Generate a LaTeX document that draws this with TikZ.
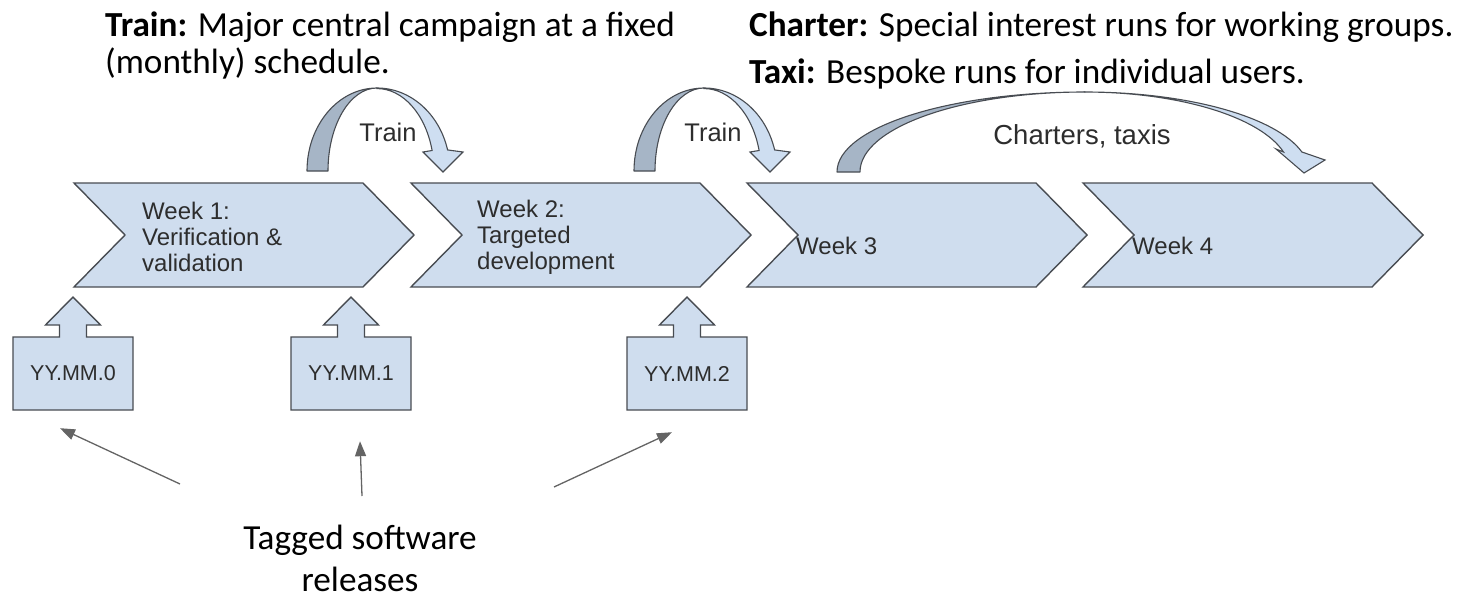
\documentclass[tikz,border=0pt]{standalone}
\usepackage{fontspec}
\setmainfont{Carlito}
\newfontfamily\arialf{Liberation Sans}
\usetikzlibrary{arrows.meta,calc}
\definecolor{chevfill}{RGB}{207,221,238}
\definecolor{chevdraw}{RGB}{72,76,82}
\definecolor{arcdark}{RGB}{166,181,198}
\definecolor{arclight}{RGB}{206,222,241}
\definecolor{pointercol}{RGB}{100,100,100}
\definecolor{labelcol}{RGB}{45,45,45}
\begin{document}
\begin{tikzpicture}[x=1pt,y=-1pt,
  chev/.style={fill=chevfill,draw=chevdraw,line width=1.4pt,line join=miter},
  darkband/.style={fill=arcdark,draw=chevdraw,line width=1.1pt,line join=round},
  lightband/.style={fill=arclight,draw=chevdraw,line width=1.1pt,line join=miter},
  toptext/.style={inner sep=0pt,text=black,font=\fontsize{35.2}{40}\selectfont},
  weektext/.style={inner sep=0pt,text=labelcol,align=left,font=\arialf\fontsize{24}{26}\selectfont},
  arclabel/.style={inner sep=0pt,text=labelcol,font=\arialf\fontsize{25.5}{28}\selectfont},
  reltext/.style={inner sep=0pt,text=labelcol,minimum width=120pt,minimum height=73pt,font=\arialf\fontsize{21.5}{24}\selectfont},
  pointer/.style={draw=pointercol,line width=1.3pt,-{Triangle[length=15pt,width=11pt]}}]
\path[use as bounding box] (0,0) rectangle (1463,602);

% top texts
\node[toptext,anchor=base west] (trainA) at (105,37) {\textbf{Train:} Major central campaign at a fixed};
\node[toptext,anchor=base west] (trainB) at (105,74) {(monthly) schedule.};
\node[toptext,anchor=base west] (charter) at (749,37) {\textbf{Charter:} Special interest runs for working groups.};
\node[toptext,anchor=base west] (taxi) at (749,83) {\textbf{Taxi:} Bespoke runs for individual users.};

% chevrons
\draw[chev,shift={(74,0)}] (0,183) -- ++(289,0) -- ++(51,52) -- ++(-51,52) -- ++(-289,0) -- ++(51,-52) -- cycle;
\draw[chev,shift={(411,0)}] (0,183) -- ++(289,0) -- ++(51,52) -- ++(-51,52) -- ++(-289,0) -- ++(51,-52) -- cycle;
\draw[chev,shift={(747,0)}] (0,183) -- ++(289,0) -- ++(51,52) -- ++(-51,52) -- ++(-289,0) -- ++(51,-52) -- cycle;
\draw[chev,shift={(1083,0)}] (0,183) -- ++(289,0) -- ++(51,52) -- ++(-51,52) -- ++(-289,0) -- ++(51,-52) -- cycle;

\node[weektext,anchor=west] (w1) at (142,237) {Week 1:\\Verification \&\\validation};
\node[weektext,anchor=west] (w2) at (477,237) {Week 2:\\Targeted\\development};
\node[weektext,anchor=west] (w3) at (796,246) {Week 3};
\node[weektext,anchor=west] (w4) at (1132,246) {Week 4};

% train arrows
\foreach \s in {0,327}{
\begin{scope}[shift={(\s,0)}]
\draw[darkband] (307,171) arc[start angle=180,end angle=270,x radius=70,y radius=83]
  arc[start angle=270,end angle=180,x radius=49,y radius=83] -- cycle;
\draw[lightband] (377,88) arc[start angle=270,end angle=345.3,x radius=73,y radius=83]
  -- (463,152) -- (443,172) -- (423,152) -- (432.1,150.5)
  arc[start angle=345.3,end angle=270,x radius=57,y radius=83] -- cycle;
\end{scope}}
\node[arclabel] (trainlab1) at (388,132) {Train};
\node[arclabel] (trainlab2) at (713,132) {Train};

% charters arrow
\draw[darkband] (837,172) arc[start angle=180,end angle=270,x radius=248,y radius=80]
  arc[start angle=270,end angle=180,x radius=225,y radius=80] -- cycle;
\draw[lightband] (1085,92) arc[start angle=270,end angle=345.5,x radius=224,y radius=80]
  -- (1325,160) -- (1304,173) -- (1276,149) -- (1283.5,152)
  arc[start angle=345.5,end angle=270,x radius=205,y radius=80] -- cycle;
\node[arclabel,font=\arialf\fontsize{27.5}{30}\selectfont] (charlab) at (1082,136) {Charters, taxis};

% release callouts
\foreach \c in {73,351,687}{
\draw[chev,shift={(\c,0)}] (-60,410) -- (-60,337) -- (-13.5,337) -- (-13.5,325) -- (-27.5,325) -- (0,297)
  -- (27.5,325) -- (13.5,325) -- (13.5,337) -- (60,337) -- (60,410) -- cycle;}
\node[reltext] (r0) at (73,373.5) {YY.MM.0};
\node[reltext] (r1) at (351,373.5) {YY.MM.1};
\node[reltext] (r2) at (687,373.5) {YY.MM.2};

% tagged releases
\node[toptext,anchor=base] (tagA) at (360,549) {Tagged software};
\node[toptext,anchor=base] (tagB) at (360,591) {releases};
\coordinate (p0) at (180,484);
\coordinate (p1) at (362,496);
\coordinate (p2) at (554,487);
\draw[pointer] (p0) -- ($(r0.south)+(-13,18)$);
\draw[pointer] (p1) -- ($(r1.south)+(9,31)$);
\draw[pointer] (p2) -- ($(r2.south)+(-15,22)$);
\end{tikzpicture}
\end{document}
